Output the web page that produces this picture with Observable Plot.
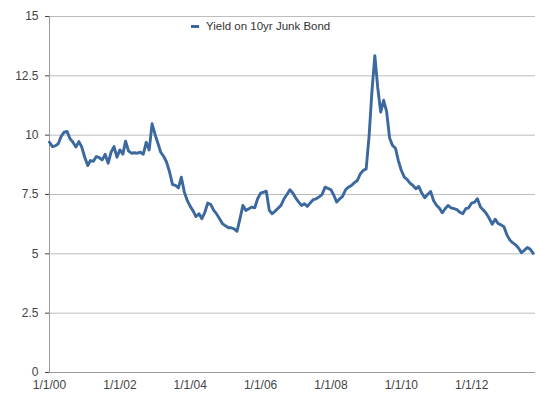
<!DOCTYPE html>
<html><head><meta charset="utf-8">
<script src="https://cdn.jsdelivr.net/npm/d3@7"></script>
<script src="https://cdn.jsdelivr.net/npm/@observablehq/plot@0.6"></script>
<style>
body{margin:0;background:#fff;}
#wrap{position:relative;width:540px;height:394px;font-family:"Liberation Sans",Arial,Helvetica,sans-serif;}
#legend{position:absolute;left:191px;top:20px;font-size:11.5px;color:#333;display:flex;align-items:center;white-space:nowrap;}
#legend .sw{display:inline-block;width:8px;height:3px;background:#3b689f;margin-right:7px;}
</style></head><body>
<div id="wrap"><div id="legend"><span class="sw"></span><span id="legtext"></span></div></div>
<script>
const seriesName = "Yield on 10yr Junk Bond";
const dates = [
"2000-01","2000-02","2000-03","2000-04","2000-05","2000-06","2000-07","2000-08","2000-09","2000-10","2000-11","2000-12",
"2001-01","2001-02","2001-03","2001-04","2001-05","2001-06","2001-07","2001-08","2001-09","2001-10","2001-11","2001-12",
"2002-01","2002-02","2002-03","2002-04","2002-05","2002-06","2002-07","2002-08","2002-09","2002-10","2002-11","2002-12",
"2003-01","2003-02","2003-03","2003-04","2003-05","2003-06","2003-07","2003-08","2003-09","2003-10","2003-11","2003-12",
"2004-01","2004-02","2004-03","2004-04","2004-05","2004-06","2004-07","2004-08","2004-09","2004-10","2004-11","2004-12",
"2005-01","2005-02","2005-03","2005-04","2005-05","2005-06","2005-07","2005-08","2005-09","2005-10","2005-11","2005-12",
"2006-01","2006-02","2006-03","2006-04","2006-05","2006-06","2006-07","2006-08","2006-09","2006-10","2006-11","2006-12",
"2007-01","2007-02","2007-03","2007-04","2007-05","2007-06","2007-07","2007-08","2007-09","2007-10","2007-11","2007-12",
"2008-01","2008-02","2008-03","2008-04","2008-05","2008-06","2008-07","2008-08","2008-09","2008-10","2008-11","2008-12",
"2009-01","2009-02","2009-03","2009-04","2009-05","2009-06","2009-07","2009-08","2009-09","2009-10","2009-11","2009-12",
"2010-01","2010-02","2010-03","2010-04","2010-05","2010-06","2010-07","2010-08","2010-09","2010-10","2010-11","2010-12",
"2011-01","2011-02","2011-03","2011-04","2011-05","2011-06","2011-07","2011-08","2011-09","2011-10","2011-11","2011-12",
"2012-01","2012-02","2012-03","2012-04","2012-05","2012-06","2012-07","2012-08","2012-09","2012-10","2012-11","2012-12",
"2013-01","2013-02","2013-03","2013-04","2013-05","2013-06","2013-07","2013-08","2013-09","2013-10"
];
const yields = [
9.70,9.52,9.55,9.64,9.95,10.13,10.16,9.85,9.70,9.50,9.73,9.50,
9.07,8.72,8.93,8.90,9.10,9.05,8.96,9.19,8.82,9.28,9.52,9.07,
9.38,9.20,9.75,9.33,9.24,9.26,9.24,9.28,9.20,9.70,9.38,10.48,
10.03,9.64,9.28,9.10,8.86,8.44,7.92,7.88,7.78,8.23,7.60,7.25,
7.00,6.80,6.57,6.69,6.48,6.75,7.14,7.08,6.83,6.68,6.48,6.27,
6.18,6.10,6.10,6.05,5.95,6.48,7.04,6.83,6.90,6.97,6.94,7.32,
7.56,7.60,7.64,6.83,6.69,6.80,6.92,7.04,7.32,7.50,7.70,7.56,
7.35,7.18,7.04,7.11,7.00,7.15,7.28,7.32,7.40,7.50,7.81,7.76,
7.70,7.46,7.18,7.32,7.42,7.70,7.81,7.88,8.00,8.09,8.37,8.51,
8.58,10.00,11.80,13.35,12.00,10.97,11.47,11.00,9.88,9.57,9.45,8.93,
8.51,8.23,8.14,7.98,7.88,7.74,7.84,7.56,7.36,7.50,7.63,7.25,
7.05,6.92,6.73,6.90,7.04,6.94,6.90,6.86,6.75,6.69,6.90,6.94,
7.14,7.18,7.32,6.97,6.85,6.70,6.50,6.25,6.46,6.28,6.22,6.14,
5.80,5.58,5.47,5.38,5.25,5.05,5.15,5.27,5.19,5.02
];
const yTicks = [0, 2.5, 5, 7.5, 10, 12.5, 15];
const xTickDates = ["2000-01-01","2002-01-01","2004-01-01","2006-01-01","2008-01-01","2010-01-01","2012-01-01"];
const xTickLabels = ["1/1/00","1/1/02","1/1/04","1/1/06","1/1/08","1/1/10","1/1/12"];
const xDomain = ["2000-01-01","2013-10-25"];

document.getElementById("legtext").textContent = seriesName;

const data = dates.map((d, i) => ({date: new Date(d + "-01T00:00:00Z"), value: yields[i]}));
const tickDates = xTickDates.map(d => new Date(d + "T00:00:00Z"));
const labelMap = new Map(tickDates.map((d, i) => [+d, xTickLabels[i]]));
const dom = xDomain.map(d => new Date(d + "T00:00:00Z"));

const chart = Plot.plot({
  width: 540, height: 394,
  marginLeft: 49, marginRight: 5, marginTop: 16, marginBottom: 22,
  style: {fontFamily: '"Liberation Sans", Arial, Helvetica, sans-serif', fontSize: "12px", color: "#444", background: "#fff", overflow: "visible"},
  x: {type: "utc", domain: dom, ticks: tickDates, tickFormat: d => labelMap.get(+d), tickSize: 0, tickPadding: 8, label: null},
  y: {domain: [0, 15], ticks: yTicks, tickFormat: d => String(d), tickSize: 4, tickPadding: 7, label: null},
  marks: [
    Plot.gridY(yTicks, {stroke: "#bdbdbd", strokeOpacity: 1}),
    Plot.ruleX([dom[0]], {stroke: "#9a9a9a"}),
    Plot.ruleY([0], {stroke: "#9a9a9a"}),
    Plot.lineY(data, {x: "date", y: "value", stroke: "#3b689f", strokeWidth: 2.9, strokeLinejoin: "round"})
  ]
});
document.getElementById("wrap").insertBefore(chart, document.getElementById("legend"));
</script>
</body></html>
